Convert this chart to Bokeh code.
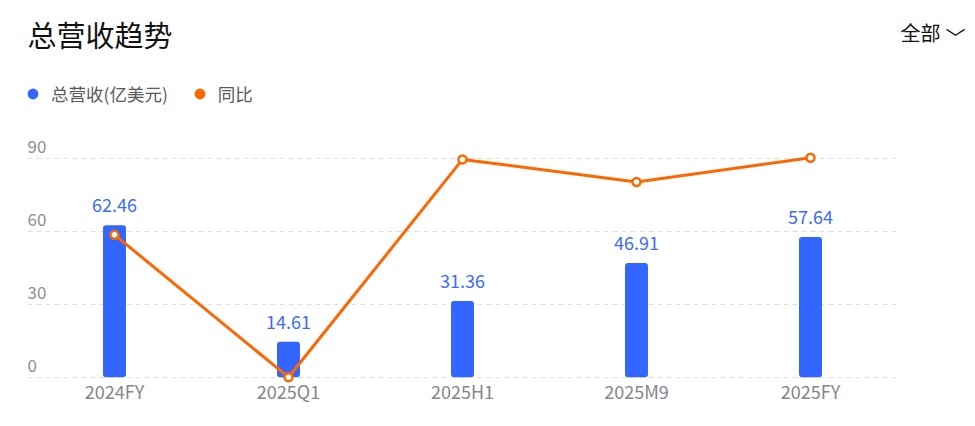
from bokeh.plotting import figure
from bokeh.models import (ColumnDataSource, FixedTicker, Label, Legend, LegendItem,
                          Range1d, FactorRange)
from bokeh.core.properties import value
from bokeh.embed import file_html
from bokeh.resources import INLINE

# ---- data ----
categories = ["2024FY", "2025Q1", "2025H1", "2025M9", "2025FY"]
revenue = [62.46, 14.61, 31.36, 46.91, 57.64]          # 总营收(亿美元)
yoy = [58.5, 0.0, 89.5, 80.2, 90.2]                     # 同比 (hidden axis)
y_ticks = [0, 30, 60, 90]
y_tick_labels = ["0", "30", "60", "90"]

FONT = "Noto Sans CJK SC"
BLUE = "#3366FF"
ORANGE = "#FF6600"

src = ColumnDataSource(dict(cat=categories, rev=revenue, yoy=yoy,
                            lab=["%.2f" % v for v in revenue]))
tick_src = ColumnDataSource(dict(cat=[categories[0]] * len(y_ticks), y=y_ticks, t=y_tick_labels))

p = figure(width=972, height=424, x_range=FactorRange(*categories),
           y_range=Range1d(-2.18, 154.8), output_backend="svg", toolbar_location=None,
           min_border_left=27, min_border_right=75, min_border_top=0, min_border_bottom=42)
p.extra_y_ranges = {"yoy": Range1d(-2.18, 154.8)}
p.x_range.range_padding = 0
p.outline_line_color = None
p.background_fill_color = "white"
p.border_fill_color = "white"

# axes
p.yaxis.visible = False
p.yaxis.ticker = FixedTicker(ticks=y_ticks)
p.ygrid.ticker = FixedTicker(ticks=y_ticks)
p.ygrid.grid_line_color = "#DEDEDE"
p.ygrid.grid_line_dash = "5 4"
p.ygrid.grid_line_width = 1
p.xgrid.visible = False
p.xaxis.axis_line_color = None
p.xaxis.major_tick_line_color = None
p.xaxis.minor_tick_line_color = None
p.xaxis.major_tick_out = 0
p.xaxis.major_tick_in = 0
p.xaxis.major_label_standoff = -5
p.xaxis.major_label_text_font = FONT
p.xaxis.major_label_text_font_size = "18px"
p.xaxis.major_label_text_color = "#86868B"

# y tick labels drawn above grid lines at left edge
p.text(x="cat", y="y", text="t", source=tick_src, x_offset=-87, y_offset=-12,
       text_align="left", text_baseline="alphabetic", text_font=value(FONT),
       text_font_size="17px", text_color="#8E8E93")

# bars
p.vbar(x="cat", top="rev", bottom=0, width=0.132, source=src, fill_color=BLUE,
       line_color=None, border_radius=3)
p.text(x="cat", y="rev", text="lab", source=src, y_offset=-20, text_align="center",
       text_baseline="alphabetic", text_font=value(FONT), text_font_size="18px",
       text_color="#3D6BFF")

# yoy line
p.line(x="cat", y="yoy", source=src, y_range_name="yoy", line_color=ORANGE, line_width=3)
p.scatter(x="cat", y="yoy", source=src, y_range_name="yoy", size=8, fill_color="white",
          line_color=ORANGE, line_width=2.5)

# legend (circle markers, hidden renderers used only for legend glyphs)
r_rev = p.scatter(x="cat", y="rev", source=src, size=11, fill_color=BLUE, line_color=None,
                  visible=False)
r_yoy = p.scatter(x="cat", y="yoy", source=src, y_range_name="yoy", size=11,
                  fill_color=ORANGE, line_color=None, visible=False)
legend = Legend(items=[LegendItem(label="总营收(亿美元)", renderers=[r_rev]),
                       LegendItem(label="同比", renderers=[r_yoy])],
                orientation="horizontal", location=(-8, 275), padding=0, margin=0,
                spacing=18, label_standoff=5, glyph_width=27, glyph_height=27,
                label_text_font=FONT, label_text_font_size="17.5px",
                label_text_color="#5A5A5A", border_line_color=None,
                background_fill_alpha=0)
p.add_layout(legend, "center")

# title
p.add_layout(Label(x=0, y=349, x_units="screen", y_units="screen", text="总营收趋势",
                   text_font=FONT, text_font_size="29px", text_color="#111111",
                   text_baseline="middle", text_align="left"))
# selector in the right panel (panels stack left to right)
p.add_layout(Label(x=3, y=350, x_units="screen", y_units="screen", text="全部",
                   text_font=FONT, text_font_size="20px", text_color="#111111",
                   text_baseline="middle", text_align="left"), "right")
p.add_layout(Label(x=8, y=345, x_units="screen", y_units="screen", text="﹀",
                   text_font=FONT, text_font_size="20px", text_color="#111111",
                   text_baseline="middle", text_align="left"), "right")

open("out.html", "w").write(file_html(p, INLINE))
